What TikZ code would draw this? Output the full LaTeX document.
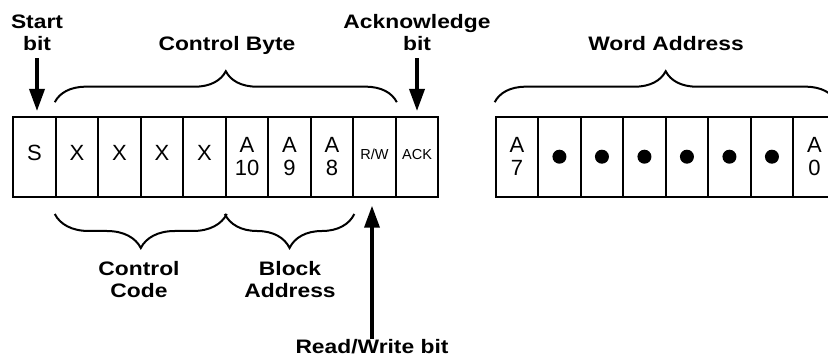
\documentclass[tikz,border=0pt]{standalone}
\usepackage{fontspec}
\setmainfont{Liberation Sans}
\newfontfamily\lblfont[FakeStretch=1.17]{Liberation Sans}
\usetikzlibrary{arrows.meta,decorations.pathreplacing}
\tikzset{
 cell/.style={draw, line width=2pt, minimum width=42.5pt, minimum height=80pt, inner sep=0pt, font=\fontsize{22}{23}\selectfont},
 two/.style={cell, align=center},
 one/.style={cell, text height=15.5pt, text depth=7pt},
 small/.style={cell, font=\fontsize{14.5}{16}\selectfont, text height=10.5pt, text depth=5pt},
 lbl/.style={font=\lblfont\fontsize{19.5}{22}\bfseries, align=center, inner sep=0pt},
 brc/.style={decorate, decoration={brace, amplitude=31pt}, line width=2pt},
 lbrc/.style={decorate, decoration={brace, amplitude=34pt, mirror}, line width=2pt},
 bigarrow/.style={line width=3.5pt, -{Triangle[width=15pt,length=22pt]}},
 dot/.style={fill=black}
}
\begin{document}
\begin{tikzpicture}[x=1pt,y=-1pt]
\clip (0,0) rectangle (828,358);
% control byte cells
\node[one] (s)   at (34.55,156.7) {S};
\node[one] (x1)  at (77.05,156.7) {X};
\node[one] (x2)  at (119.55,156.7) {X};
\node[one] (x3)  at (162.05,156.7) {X};
\node[one] (x4)  at (204.55,156.7) {X};
\node[two] (a10) at (247.05,156.7) {A\\10};
\node[two] (a9)  at (289.55,156.7) {A\\9};
\node[two] (a8)  at (332.05,156.7) {A\\8};
\node[small] (rw) at (374.55,156.7) {R/W};
\node[small] (ack) at (417.05,156.7) {ACK};
% word address cells
\node[two] (w7) at (516.95,156.7) {A\\7};
\node[cell] (d1) at (559.45,156.7) {};
\node[cell] (d2) at (601.95,156.7) {};
\node[cell] (d3) at (644.45,156.7) {};
\node[cell] (d4) at (686.95,156.7) {};
\node[cell] (d5) at (729.45,156.7) {};
\node[cell] (d6) at (771.95,156.7) {};
\node[two] (w0) at (814.45,156.7) {A\\0};
\foreach \d in {d1,d2,d3,d4,d5,d6}{\fill[dot] (\d.center) circle[radius=7pt];}
% braces
\draw[brc] ([yshift=13.5pt]x1.north west) -- ([yshift=13.5pt]rw.north east);
\draw[brc] ([yshift=13.5pt]w7.north west) -- ([yshift=13.5pt]w0.north east);
\draw[lbrc] ([yshift=-16.3pt]x1.south west) -- ([yshift=-16.3pt]x4.south east);
\draw[lbrc] ([yshift=-16.3pt]a10.south west) -- ([yshift=-16.3pt]a8.south east);
% labels
\node[lbl] (start) at (37,33) {Start\\bit};
\node[lbl] (ackl) at (417,33) {Acknowledge\\bit};
\node[lbl, anchor=base] (cbyte) at (227,51) {Control Byte};
\node[lbl, anchor=base] (waddr) at (666,51) {Word Address};
\node[lbl] (ccode) at (139,280) {Control\\Code};
\node[lbl] (baddr) at (290,280) {Block\\Address};
\node[lbl, anchor=base] (rwl) at (372,353) {Read/Write bit};
% arrows
\draw[bigarrow, shorten <=7pt, shorten >=4.7pt] (start.south) -- (start.south |- s.north);
\draw[bigarrow, shorten <=7pt, shorten >=4.7pt] (ackl.south) -- (ackl.south |- ack.north);
\draw[bigarrow, shorten <=14pt, shorten >=8pt] (rwl.base) -- (rwl.base |- rw.south);
\end{tikzpicture}
\end{document}
